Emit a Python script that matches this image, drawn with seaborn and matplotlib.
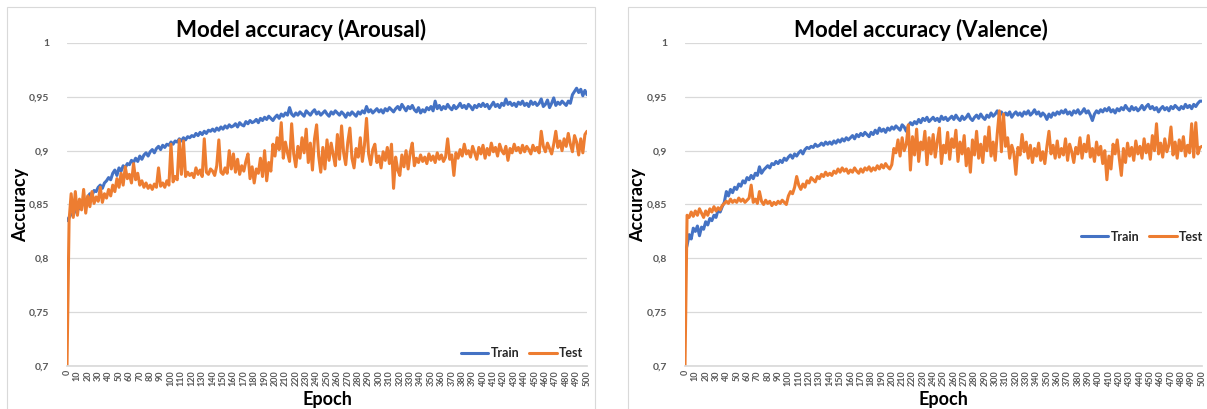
import matplotlib
matplotlib.use('Agg')
import matplotlib.pyplot as plt
from matplotlib.patches import Rectangle
from matplotlib.ticker import FuncFormatter, MultipleLocator
import seaborn as sns
import pandas as pd

sns.set_theme(style='white')
plt.rcParams['font.family'] = ['Lato', 'DejaVu Sans']

# epochs are sampled every 2 steps (0..500)
EPOCHS = list(range(0, 501, 2))

arousal_train = [
    0.835, 0.838, 0.841, 0.840, 0.845, 0.848, 0.846, 0.851, 0.853, 0.852,
    0.857, 0.860, 0.858, 0.863, 0.862, 0.866, 0.868, 0.865, 0.870, 0.872,
    0.875, 0.873, 0.879, 0.882, 0.877, 0.884, 0.881, 0.886, 0.884, 0.888,
    0.887, 0.891, 0.889, 0.893, 0.890, 0.895, 0.892, 0.896, 0.898, 0.895,
    0.899, 0.901, 0.898, 0.902, 0.904, 0.901, 0.905, 0.903, 0.906, 0.905,
    0.908, 0.906, 0.909, 0.908, 0.911, 0.909, 0.912, 0.910, 0.913, 0.912,
    0.914, 0.913, 0.916, 0.914, 0.917, 0.915, 0.918, 0.916, 0.919, 0.918,
    0.920, 0.918, 0.921, 0.919, 0.922, 0.920, 0.923, 0.921, 0.924, 0.922,
    0.923, 0.925, 0.922, 0.926, 0.924, 0.923, 0.927, 0.925, 0.928, 0.926,
    0.927, 0.929, 0.926, 0.930, 0.928, 0.931, 0.929, 0.932, 0.930, 0.928,
    0.931, 0.933, 0.930, 0.934, 0.932, 0.935, 0.933, 0.940, 0.934, 0.932,
    0.935, 0.933, 0.936, 0.934, 0.932, 0.937, 0.935, 0.933, 0.936, 0.938,
    0.934, 0.936, 0.933, 0.935, 0.937, 0.934, 0.932, 0.936, 0.934, 0.937,
    0.935, 0.933, 0.936, 0.934, 0.931, 0.935, 0.933, 0.936, 0.934, 0.932,
    0.936, 0.934, 0.937, 0.935, 0.941, 0.936, 0.938, 0.935, 0.937, 0.939,
    0.936, 0.938, 0.935, 0.939, 0.937, 0.940, 0.938, 0.936, 0.939, 0.941,
    0.938, 0.943, 0.940, 0.937, 0.941, 0.939, 0.942, 0.938, 0.936, 0.940,
    0.935, 0.938, 0.936, 0.940, 0.938, 0.941, 0.937, 0.946, 0.939, 0.942,
    0.938, 0.941, 0.939, 0.943, 0.940, 0.938, 0.942, 0.939, 0.941, 0.944,
    0.940, 0.942, 0.939, 0.943, 0.941, 0.938, 0.942, 0.940, 0.943, 0.941,
    0.944, 0.941, 0.943, 0.939, 0.942, 0.945, 0.941, 0.943, 0.940, 0.944,
    0.942, 0.948, 0.943, 0.945, 0.942, 0.944, 0.941, 0.945, 0.943, 0.946,
    0.942, 0.944, 0.941, 0.946, 0.943, 0.945, 0.942, 0.944, 0.948, 0.941,
    0.943, 0.947, 0.940, 0.944, 0.949, 0.942, 0.945, 0.943, 0.946, 0.944,
    0.942, 0.946, 0.944, 0.952, 0.955, 0.958, 0.954, 0.957, 0.951, 0.956,
    0.952,
]

arousal_test = [
    0.700, 0.835, 0.860, 0.838, 0.862, 0.840, 0.855, 0.845, 0.864, 0.842,
    0.858, 0.848, 0.862, 0.851, 0.857, 0.853, 0.866, 0.852, 0.860, 0.856,
    0.864, 0.858, 0.868, 0.862, 0.874, 0.866, 0.879, 0.868, 0.885, 0.874,
    0.878, 0.870, 0.888, 0.873, 0.879, 0.868, 0.872, 0.866, 0.870, 0.865,
    0.868, 0.864, 0.869, 0.866, 0.884, 0.867, 0.870, 0.866, 0.872, 0.868,
    0.906, 0.871, 0.876, 0.873, 0.910, 0.878, 0.909, 0.876, 0.880, 0.877,
    0.879, 0.875, 0.884, 0.878, 0.882, 0.876, 0.911, 0.880, 0.878, 0.883,
    0.881, 0.877, 0.886, 0.910, 0.880, 0.878, 0.884, 0.879, 0.900, 0.883,
    0.897, 0.880, 0.892, 0.878, 0.886, 0.881, 0.890, 0.897, 0.874, 0.885,
    0.870, 0.883, 0.879, 0.893, 0.876, 0.900, 0.872, 0.889, 0.881, 0.906,
    0.895, 0.912, 0.901, 0.926, 0.893, 0.908, 0.898, 0.890, 0.925, 0.897,
    0.885, 0.904, 0.893, 0.912, 0.898, 0.920, 0.889, 0.907, 0.882, 0.911,
    0.924, 0.895, 0.880, 0.903, 0.883, 0.910, 0.891, 0.907, 0.896, 0.886,
    0.915, 0.892, 0.923, 0.898, 0.887, 0.908, 0.921, 0.893, 0.884, 0.902,
    0.894, 0.912, 0.890, 0.905, 0.930, 0.897, 0.887, 0.901, 0.906, 0.889,
    0.895, 0.884, 0.899, 0.891, 0.903, 0.888, 0.906, 0.865, 0.894, 0.882,
    0.877, 0.896, 0.885, 0.900, 0.883, 0.898, 0.907, 0.886, 0.893, 0.889,
    0.896, 0.890, 0.894, 0.888, 0.897, 0.891, 0.895, 0.889, 0.898, 0.892,
    0.896, 0.890, 0.894, 0.911, 0.892, 0.896, 0.877, 0.898, 0.893, 0.901,
    0.895, 0.906, 0.897, 0.900, 0.894, 0.904, 0.898, 0.892, 0.903, 0.897,
    0.905, 0.893, 0.902, 0.896, 0.907, 0.899, 0.903, 0.895, 0.906, 0.900,
    0.897, 0.904, 0.891, 0.902, 0.898, 0.906, 0.900, 0.903, 0.898, 0.905,
    0.899, 0.904, 0.901, 0.897, 0.905, 0.900, 0.903, 0.898, 0.918, 0.904,
    0.899, 0.907, 0.902, 0.897, 0.906, 0.918, 0.903, 0.909, 0.900, 0.911,
    0.904, 0.916, 0.906, 0.899, 0.914, 0.908, 0.896, 0.911, 0.898, 0.915,
    0.918,
]

valence_train = [
    0.805, 0.812, 0.822, 0.818, 0.828, 0.825, 0.830, 0.821, 0.829, 0.827,
    0.834, 0.831, 0.837, 0.835, 0.840, 0.838, 0.845, 0.843, 0.848, 0.852,
    0.862, 0.858, 0.864, 0.861, 0.866, 0.864, 0.869, 0.867, 0.872, 0.870,
    0.875, 0.873, 0.877, 0.874, 0.879, 0.877, 0.885, 0.879, 0.882, 0.884,
    0.886, 0.884, 0.888, 0.887, 0.890, 0.888, 0.891, 0.889, 0.893, 0.891,
    0.894, 0.896, 0.893, 0.897, 0.895, 0.898, 0.900, 0.897, 0.901, 0.903,
    0.902, 0.904, 0.903, 0.906, 0.904, 0.905, 0.907, 0.905, 0.908, 0.906,
    0.908, 0.906, 0.909, 0.907, 0.910, 0.908, 0.911, 0.909, 0.912, 0.910,
    0.912, 0.914, 0.911, 0.915, 0.913, 0.916, 0.914, 0.917, 0.915, 0.913,
    0.917, 0.915, 0.919, 0.916, 0.921, 0.918, 0.920, 0.917, 0.921, 0.919,
    0.922, 0.920, 0.923, 0.921, 0.919, 0.924, 0.922, 0.918, 0.923, 0.926,
    0.924, 0.927, 0.925, 0.929, 0.926, 0.930, 0.928, 0.931, 0.927, 0.929,
    0.931, 0.928, 0.930, 0.927, 0.932, 0.929, 0.931, 0.928, 0.930, 0.932,
    0.929, 0.933, 0.930, 0.928, 0.932, 0.929, 0.931, 0.934, 0.930, 0.928,
    0.931, 0.933, 0.930, 0.934, 0.931, 0.929, 0.933, 0.931, 0.935, 0.932,
    0.934, 0.937, 0.933, 0.936, 0.932, 0.935, 0.933, 0.936, 0.931, 0.934,
    0.936, 0.933, 0.935, 0.932, 0.936, 0.934, 0.937, 0.933, 0.935, 0.938,
    0.934, 0.936, 0.932, 0.935, 0.933, 0.929, 0.934, 0.931, 0.935, 0.933,
    0.936, 0.934, 0.937, 0.935, 0.938, 0.934, 0.936, 0.933, 0.937, 0.935,
    0.938, 0.934, 0.936, 0.939, 0.935, 0.937, 0.933, 0.928, 0.934, 0.937,
    0.935, 0.938, 0.936, 0.939, 0.937, 0.940, 0.936, 0.938, 0.935, 0.939,
    0.937, 0.940, 0.938, 0.942, 0.939, 0.937, 0.941, 0.938, 0.940, 0.937,
    0.939, 0.942, 0.938, 0.941, 0.943, 0.939, 0.941, 0.938, 0.940, 0.936,
    0.939, 0.941, 0.938, 0.940, 0.937, 0.941, 0.939, 0.942, 0.940, 0.938,
    0.941, 0.939, 0.943, 0.940, 0.942, 0.939, 0.943, 0.941, 0.944, 0.946,
    0.946,
]

valence_test = [
    0.700, 0.840, 0.838, 0.843, 0.839, 0.844, 0.840, 0.846, 0.842, 0.838,
    0.844, 0.840, 0.846, 0.843, 0.848, 0.844, 0.847, 0.845, 0.849, 0.851,
    0.853, 0.851, 0.855, 0.852, 0.854, 0.852, 0.856, 0.853, 0.855, 0.852,
    0.854, 0.856, 0.868, 0.852, 0.855, 0.851, 0.862, 0.853, 0.850, 0.854,
    0.851, 0.853, 0.849, 0.852, 0.850, 0.853, 0.851, 0.854, 0.852, 0.850,
    0.858, 0.862, 0.860, 0.866, 0.876, 0.868, 0.864, 0.869, 0.866, 0.872,
    0.870, 0.875, 0.873, 0.871, 0.876, 0.874, 0.878, 0.876, 0.880, 0.877,
    0.879, 0.877, 0.881, 0.879, 0.883, 0.880, 0.884, 0.881, 0.883, 0.879,
    0.882, 0.880, 0.884, 0.881, 0.879, 0.883, 0.880, 0.884, 0.882, 0.885,
    0.881, 0.884, 0.882, 0.886, 0.883, 0.887, 0.884, 0.888, 0.885, 0.883,
    0.887, 0.902, 0.898, 0.910, 0.895, 0.912, 0.900, 0.906, 0.924, 0.882,
    0.913, 0.896, 0.920, 0.890, 0.908, 0.901, 0.918, 0.887, 0.912, 0.897,
    0.915, 0.894, 0.909, 0.921, 0.888, 0.905, 0.898, 0.917, 0.892, 0.911,
    0.903, 0.919, 0.890, 0.908, 0.897, 0.914, 0.886, 0.902, 0.880, 0.910,
    0.896, 0.918, 0.893, 0.906, 0.889, 0.913, 0.900, 0.922, 0.895, 0.908,
    0.891, 0.916, 0.937, 0.899, 0.934, 0.904, 0.912, 0.893, 0.905, 0.898,
    0.878, 0.903, 0.896, 0.915, 0.899, 0.908, 0.893, 0.905, 0.889, 0.902,
    0.895, 0.907, 0.891, 0.899, 0.888, 0.904, 0.918, 0.897, 0.905, 0.893,
    0.909, 0.894, 0.902, 0.896, 0.911, 0.891, 0.906, 0.899, 0.889, 0.903,
    0.897, 0.912, 0.893, 0.906, 0.899, 0.914, 0.894, 0.902, 0.890, 0.908,
    0.896, 0.904, 0.888, 0.900, 0.873, 0.895, 0.883, 0.906, 0.897, 0.910,
    0.893, 0.877, 0.902, 0.889, 0.907, 0.895, 0.903, 0.891, 0.909, 0.897,
    0.904, 0.893, 0.911, 0.898, 0.906, 0.892, 0.914, 0.900, 0.925, 0.897,
    0.907, 0.894, 0.911, 0.899, 0.905, 0.922, 0.896, 0.908, 0.893, 0.910,
    0.900, 0.913, 0.895, 0.905, 0.898, 0.925, 0.894, 0.926, 0.897, 0.903,
    0.904,
]

BLUE = '#4472C4'
ORANGE = '#ED7D31'
GRID = '#D9D9D9'
TEXT = '#595959'

W, H = 1207, 409
fig = plt.figure(figsize=(W / 100, H / 100), dpi=100)
fig.patch.set_facecolor('white')

# chart area frames (pixel boxes)
for x0, x1 in [(7, 595), (628, 1214)]:
    fig.patches.append(Rectangle((x0 / W, -0.05), (x1 - x0) / W, (H - 7) / H + 0.05,
                                 transform=fig.transFigure, fill=False,
                                 edgecolor=GRID, linewidth=0.8))

panels = [
    ('Model accuracy (Arousal)', arousal_train, arousal_test, 67, 520, 301, 29, (0.875, 0.04)),
    ('Model accuracy (Valence)', valence_train, valence_test, 685, 517, 921, 646, (0.884, 0.40)),
]

for title, train, test, left_px, width_px, title_cx, ylab_px, leg_pos in panels:
    ax = fig.add_axes([left_px / W, 43 / H, width_px / W, 323 / H])

    df = pd.DataFrame({
        'Epoch': EPOCHS + EPOCHS,
        'Accuracy': train + test,
        'Series': ['Train'] * len(train) + ['Test'] * len(test),
    })
    sns.lineplot(data=df, x='Epoch', y='Accuracy', hue='Series',
                 palette={'Train': BLUE, 'Test': ORANGE}, linewidth=2.2, ax=ax)

    ax.set_xlim(0, 500)
    ax.set_ylim(0.7, 1.0)
    ax.xaxis.set_major_locator(MultipleLocator(10))
    ax.yaxis.set_major_locator(MultipleLocator(0.05))
    ax.yaxis.set_major_formatter(FuncFormatter(lambda v, p: f'{v:g}'.replace('.', ',')))
    ax.grid(axis='y', color=GRID, linewidth=0.9)
    ax.set_axisbelow(True)
    for side in ['left', 'right', 'top']:
        ax.spines[side].set_visible(False)
    ax.spines['bottom'].set_color(GRID)
    ax.tick_params(axis='both', length=0, colors=TEXT)
    ax.tick_params(axis='y', labelsize=7.5, pad=13)
    ax.tick_params(axis='x', labelsize=6.5, rotation=90, pad=3)
    for lab in ax.get_yticklabels() + ax.get_xticklabels():
        lab.set_fontweight('bold')

    ax.set_xlabel('Epoch', fontsize=13, fontweight='bold', color='black')
    ax.set_ylabel('Accuracy', fontsize=13, fontweight='bold', color='black')
    ax.xaxis.set_label_coords(0.5, (366 - 391) / 323)
    ax.yaxis.set_label_coords((ylab_px - left_px) / width_px, 0.5)

    handles, labels = ax.get_legend_handles_labels()
    ax.legend(handles, labels, loc='center', bbox_to_anchor=leg_pos, ncol=2,
              frameon=False, handlelength=2.2, handletextpad=0.2, columnspacing=0.8,
              prop={'size': 9, 'weight': 'bold'})

    fig.text(title_cx / W, 1 - 30 / H, title, ha='center', va='center',
             fontsize=16, fontweight='bold', color='black')

fig.savefig('out.png', dpi=100, facecolor='white')
